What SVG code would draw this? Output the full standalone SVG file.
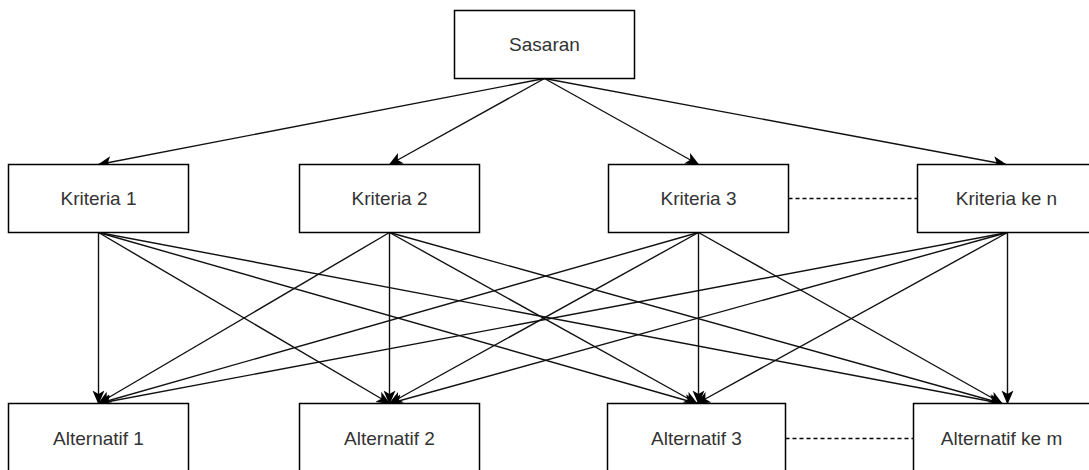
<svg xmlns="http://www.w3.org/2000/svg" width="1089" height="470" viewBox="0 0 1089 470">
<style>
.box{fill:#fff;stroke:#000;stroke-width:1.5}
.lbl{font-family:"Liberation Sans",Arial,sans-serif;font-size:19px;fill:#333;text-anchor:middle}
.e{stroke:#111;stroke-width:1.4;fill:none;marker-end:url(#arr)}
.d{stroke:#000;stroke-width:1.3;fill:none;stroke-dasharray:4 3}
</style>
<defs>
<marker id="arr" markerUnits="userSpaceOnUse" markerWidth="16" markerHeight="14" refX="13" refY="6" orient="auto">
<path d="M0,0 L14,6 L0,12 L3.5,6 z" fill="#000"/>
</marker>
</defs>
<rect width="1089" height="470" fill="#fff"/>
<g id="connectors">
<line class="e" x1="544.5" y1="78.5" x2="98.5" y2="164.5"/>
<line class="e" x1="544.5" y1="78.5" x2="389.5" y2="164.5"/>
<line class="e" x1="544.5" y1="78.5" x2="698.5" y2="164.5"/>
<line class="e" x1="544.5" y1="78.5" x2="1006" y2="164.5"/>
<line class="e" x1="98.5" y1="232.5" x2="98.5" y2="403.5"/>
<line class="e" x1="98.5" y1="232.5" x2="389.5" y2="403.5"/>
<line class="e" x1="98.5" y1="232.5" x2="697" y2="403.5"/>
<line class="e" x1="98.5" y1="232.5" x2="1002" y2="403.5"/>
<line class="e" x1="389.5" y1="232.5" x2="98.5" y2="403.5"/>
<line class="e" x1="389.5" y1="232.5" x2="389.5" y2="403.5"/>
<line class="e" x1="389.5" y1="232.5" x2="697" y2="403.5"/>
<line class="e" x1="389.5" y1="232.5" x2="1002" y2="403.5"/>
<line class="e" x1="698.5" y1="232.5" x2="98.5" y2="403.5"/>
<line class="e" x1="698.5" y1="232.5" x2="389.5" y2="403.5"/>
<line class="e" x1="698.5" y1="232.5" x2="698.5" y2="403.5"/>
<line class="e" x1="698.5" y1="232.5" x2="1002" y2="403.5"/>
<line class="e" x1="1007.5" y1="232.5" x2="98.5" y2="403.5"/>
<line class="e" x1="1007.5" y1="232.5" x2="389.5" y2="403.5"/>
<line class="e" x1="1007.5" y1="232.5" x2="697" y2="403.5"/>
<line class="e" x1="1007.5" y1="232.5" x2="1007.5" y2="403.5"/>
<line class="d" x1="788.5" y1="198.5" x2="917.5" y2="198.5"/>
<line class="d" x1="785.5" y1="438.5" x2="913.5" y2="438.5"/>
</g>
<g id="sasaran"><rect class="box" x="454.5" y="10.5" width="180" height="68"/><text class="lbl" x="544.5" y="51">Sasaran</text></g>
<g id="kriteria1"><rect class="box" x="8.5" y="164.5" width="180" height="68"/><text class="lbl" x="98.5" y="205">Kriteria 1</text></g>
<g id="kriteria2"><rect class="box" x="299.5" y="164.5" width="180" height="68"/><text class="lbl" x="389.5" y="205">Kriteria 2</text></g>
<g id="kriteria3"><rect class="box" x="608.5" y="164.5" width="180" height="68"/><text class="lbl" x="698.5" y="205">Kriteria 3</text></g>
<g id="kriteriaN"><rect class="box" x="917.5" y="164.5" width="180" height="68"/><text class="lbl" x="1006.5" y="205">Kriteria ke n</text></g>
<g id="alternatif1"><rect class="box" x="8.5" y="403.5" width="180" height="68"/><text class="lbl" x="98.5" y="445">Alternatif 1</text></g>
<g id="alternatif2"><rect class="box" x="299.5" y="403.5" width="180" height="68"/><text class="lbl" x="389.5" y="445">Alternatif 2</text></g>
<g id="alternatif3"><rect class="box" x="607.5" y="403.5" width="178" height="68"/><text class="lbl" x="696.5" y="445">Alternatif 3</text></g>
<g id="alternatifM"><rect class="box" x="913.5" y="403.5" width="177" height="68"/><text class="lbl" x="1001.5" y="445">Alternatif ke m</text></g>
</svg>
